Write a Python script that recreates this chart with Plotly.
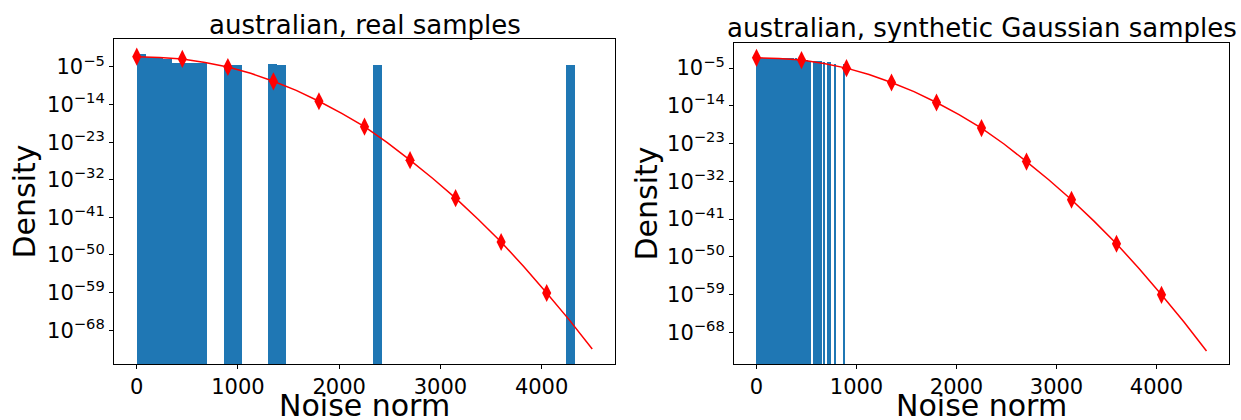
import plotly.graph_objects as go

# ---------------- data ----------------
# Left panel: histogram of real sample noise norms (bin left edges, log10 density)
real_bin_width = 86.5
real_bin_left = [0, 86.5, 173, 259.5, 346, 432.5, 519, 605.5,
                 865, 951.5, 1297.5, 1384, 2335.5, 4238.5]
real_log_density = [-1.89, -2.70, -2.75, -3.20, -3.95, -3.95, -3.95, -3.95,
                    -4.50, -4.50, -4.28, -4.50, -4.50, -4.50]

# Right panel: histogram of synthetic Gaussian sample noise norms
syn_bin_width = 17.66
syn_bin_left = [0, 17.66, 35.32, 52.98, 70.64, 88.3, 105.96, 123.62, 141.28, 158.94,
                176.6, 194.26, 211.92, 229.58, 247.24, 264.9, 282.56, 300.22, 317.88, 335.54,
                353.2, 370.86, 388.52, 406.18, 423.84, 441.5, 459.16, 476.82, 494.48, 512.14,
                529.8, 565.12, 582.78, 600.44, 618.1, 635.76, 671.08, 706.4, 724.06,
                777.04, 865.34]
syn_log_density = [-2.64, -2.62, -2.66, -2.63, -2.65, -2.61, -2.64, -2.66, -2.62, -2.65,
                   -2.63, -2.66, -2.64, -2.62, -2.65, -2.67, -2.63, -2.66, -2.64, -2.68,
                   -2.65, -2.70, -2.68, -2.72, -2.75, -2.80, -2.90, -3.00, -3.10, -3.20,
                   -3.26, -3.26, -3.26, -3.30, -3.26, -3.30, -3.57, -3.57, -3.57,
                   -3.97, -4.00]

# Theoretical density curve (same in both panels), log10 values
curve_x = [0, 225, 450, 675, 900, 1125, 1350, 1575, 1800, 2025, 2250,
           2475, 2700, 2925, 3150, 3375, 3600, 3825, 4050, 4275, 4500]
curve_log_density = [-2.53, -2.70, -3.08, -3.90, -5.00, -6.50, -8.42, -10.6, -13.2, -16.1, -19.3,
                     -23.1, -27.3, -31.7, -36.4, -41.5, -46.9, -52.8, -59.1, -65.6, -72.5]
marker_x = [0, 450, 900, 1350, 1800, 2250, 2700, 3150, 3600, 4050]
marker_log_density = [-2.53, -3.08, -5.00, -8.42, -13.2, -19.3, -27.3, -36.4, -46.9, -59.1]

ytick_exponents = [-5, -14, -23, -32, -41, -50, -59, -68]
xtick_values = [0, 1000, 2000, 3000, 4000]

titles = ["australian, real samples", "australian, synthetic Gaussian samples"]
xlabel = "Noise norm"
ylabel = "Density"

# ---------------- figure ----------------
W, H = 1241, 420
FONT = "DejaVu Sans"
BAR = "#1f77b4"

fig = go.Figure()

def add_panel(bin_left, bin_w, logd, xa, ya):
    fig.add_trace(go.Bar(
        x=[b + bin_w / 2 for b in bin_left],
        y=[10 ** v for v in logd],
        width=[bin_w] * len(bin_left),
        marker=dict(color=BAR, line=dict(width=0)),
        xaxis=xa, yaxis=ya, showlegend=False, hoverinfo="skip"))
    fig.add_trace(go.Scatter(
        x=curve_x, y=[10 ** v for v in curve_log_density], mode="lines",
        line=dict(color="red", width=1.5),
        xaxis=xa, yaxis=ya, showlegend=False, hoverinfo="skip"))
    fig.add_trace(go.Scatter(
        x=marker_x, y=[10 ** v for v in marker_log_density], mode="markers",
        marker=dict(symbol="diamond-tall", size=13, color="red", line=dict(width=0)),
        xaxis=xa, yaxis=ya, showlegend=False, hoverinfo="skip"))

add_panel(real_bin_left, real_bin_width, real_log_density, "x", "y")
add_panel(syn_bin_left, syn_bin_width, syn_log_density, "x2", "y2")

ytickvals = [10 ** e for e in ytick_exponents]
yticktext = ["10<sup>\u2212%d</sup>" % abs(e) for e in ytick_exponents]

axis_common = dict(showline=True, mirror=True, linecolor="black", linewidth=1,
                   ticks="outside", ticklen=4, tickwidth=1, tickcolor="black",
                   showgrid=False, zeroline=False,
                   tickfont=dict(family=FONT, size=21, color="black"))

L = dict(x0=114, x1=615, y0=39, y1=364)
R = dict(x0=734, x1=1229, y0=43, y1=364)

fig.update_layout(
    width=W, height=H, margin=dict(l=0, r=0, t=0, b=0),
    paper_bgcolor="white", plot_bgcolor="white", bargap=0, barmode="overlay",
    xaxis=dict(domain=[L["x0"] / W, L["x1"] / W], range=[-225, 4725], anchor="y",
               tickvals=xtick_values, **axis_common),
    yaxis=dict(domain=[1 - L["y1"] / H, 1 - L["y0"] / H], type="log", range=[-76.1, 1.7],
               anchor="x", tickvals=ytickvals, ticktext=yticktext, **axis_common),
    xaxis2=dict(domain=[R["x0"] / W, R["x1"] / W], range=[-225, 4725], anchor="y2",
                tickvals=xtick_values, **axis_common),
    yaxis2=dict(domain=[1 - R["y1"] / H, 1 - R["y0"] / H], type="log", range=[-75.6, 1.0],
                anchor="x2", tickvals=ytickvals, ticktext=yticktext, **axis_common),
)

ann = []
for p, title, ty in ((L, titles[0], 24.5), (R, titles[1], 28.5)):
    cx = (p["x0"] + p["x1"]) / 2
    ann.append(dict(text=title, x=cx / W, y=1 - ty / H, xref="paper", yref="paper",
                    xanchor="center", yanchor="middle", showarrow=False,
                    font=dict(family=FONT, size=26, color="black")))
    ann.append(dict(text=xlabel, x=cx / W, y=1 - 405 / H, xref="paper", yref="paper",
                    xanchor="center", yanchor="middle", showarrow=False,
                    font=dict(family=FONT, size=30, color="black")))
for lx, p in ((24, L), (646, R)):
    cy = (p["y0"] + p["y1"]) / 2
    ann.append(dict(text=ylabel, x=lx / W, y=1 - cy / H, xref="paper", yref="paper",
                    xanchor="center", yanchor="middle", textangle=-90, showarrow=False,
                    font=dict(family=FONT, size=30, color="black")))
fig.update_layout(annotations=ann)

fig.write_html("out.html", config={"displayModeBar": False},
               post_script="document.body.style.margin='0';document.body.style.overflow='hidden';")
